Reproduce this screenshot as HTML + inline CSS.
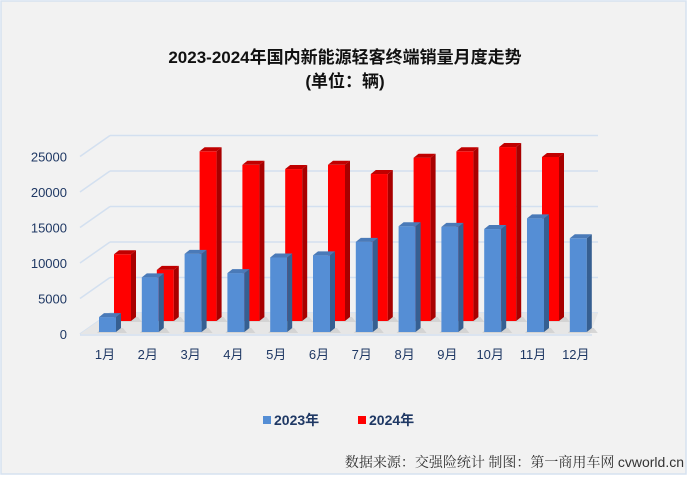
<!DOCTYPE html>
<html><head><meta charset="utf-8">
<style>
html,body{margin:0;padding:0;background:#fff;}
svg{display:block;font-family:"Liberation Sans","Noto Sans CJK SC",sans-serif;}
</style></head>
<body>
<svg id="chart" width="690" height="477" viewBox="0 0 690 477">
<rect x="1" y="1" width="685" height="473" fill="#f2f2f2" stroke="#d6e2f0" stroke-width="1.5"/>
<text x="345" y="63" text-anchor="middle" font-size="17" font-weight="bold" fill="#111">2023-2024年国内新能源轻客终端销量月度走势</text>
<text x="345" y="87" text-anchor="middle" font-size="17" font-weight="bold" fill="#111">(单位：辆)</text>
<g id="grid"></g>
<g id="floor"></g>
<g id="bars"></g>
<g id="labels"></g>
<g>
<rect x="263" y="416" width="8" height="8" fill="#558ed5"/>
<text x="274" y="425" font-size="14" font-weight="bold" fill="#1f3864">2023年</text>
<rect x="358" y="416" width="8" height="8" fill="#ff0000"/>
<text x="369" y="425" font-size="14" font-weight="bold" fill="#1f3864">2024年</text>
</g>
<text x="684" y="467" text-anchor="end" font-size="14" fill="#333" font-family="'Liberation Serif','Noto Serif CJK SC',serif">数据来源：交强险统计 制图：第一商用车网 <tspan font-family="'Liberation Sans',sans-serif">cvworld.cn</tspan></text>
</svg>
<script>
const months = ['1月','2月','3月','4月','5月','6月','7月','8月','9月','10月','11月','12月'];
const sales2023 = [2100,7700,11000,8300,10500,10800,12700,14900,14800,14500,16000,13200];
const sales2024 = [9400,7200,23900,22000,21400,22000,20700,23000,23900,24500,23100];
const yTicks = [0,5000,10000,15000,20000,25000];

const NS='http://www.w3.org/2000/svg';
function mk(tag, attrs, parent){const e=document.createElementNS(NS,tag);for(const k in attrs)e.setAttribute(k,attrs[k]);parent.appendChild(e);return e;}
const pxPer = 7.1/1000;
const yFront = v => 332 - v*pxPer;
const yBack = v => 321 - v*pxPer;
const yGrid = v => 313 - v*pxPer;
const xCat = i => 99 + i*42.8;

const grid=document.getElementById('grid');
yTicks.forEach((t,i)=>{
  const yb=yGrid(t);
  const l1=mk('line',{x1:110,y1:yb,x2:598,y2:yb,stroke:'#d3e0f0','stroke-width':1.5},grid);
  
  
  const l2=mk('line',{x1:80,y1:yb+21,x2:110,y2:yb,stroke:'#d3e0f0','stroke-width':1.5},grid);
  
  
  const tx=mk('text',{x:67,y:335-t*pxPer+4,'text-anchor':'end','font-size':13,fill:'#1f3864'},grid);
  tx.textContent=t;
  
  
});
const floor=document.getElementById('floor');
const fl=mk('polygon',{points:'80,334 110,313 598,313 590,334',fill:'#e6e6e6'},floor);


const ax=mk('line',{x1:80,y1:335,x2:592,y2:335,stroke:'#d3e0f0','stroke-width':1.5},floor);



const bars=document.getElementById('bars');
const W=17, D=5, H=4;
function bar(x,top,base,front,side,topc,name){
  const g=mk('g',{},bars);
  
  
  mk('polygon',{points:`${x-2},${base+1} ${x+W+D+6},${base+1} ${x+W+D+2},${base-4} ${x+2},${base-4}`,fill:'#cfcfcf',opacity:0.8},g);
  mk('rect',{x:x,y:top,width:W,height:base-top,fill:front},g);
  mk('polygon',{points:`${x+W},${top} ${x+W+D},${top-H} ${x+W+D},${base-H} ${x+W},${base}`,fill:side},g);
  mk('polygon',{points:`${x},${top} ${x+D},${top-H} ${x+W+D},${top-H} ${x+W},${top}`,fill:topc},g);
}
sales2024.forEach((v,i)=>bar(xCat(i)+15,yBack(v),321,'#ff0000','#a80000','#c00000','bar-2024-'+(i+1)));
sales2023.forEach((v,i)=>bar(xCat(i),yFront(v),332,'#558ed5','#365f91','#4a7ab8','bar-2023-'+(i+1)));

const labels=document.getElementById('labels');
months.forEach((m,i)=>{
  const t=mk('text',{x:xCat(i)+6,y:359,'text-anchor':'middle','font-size':13,fill:'#1f3864'},labels);
  t.textContent=m;
  
  
});
</script>
</body></html>
